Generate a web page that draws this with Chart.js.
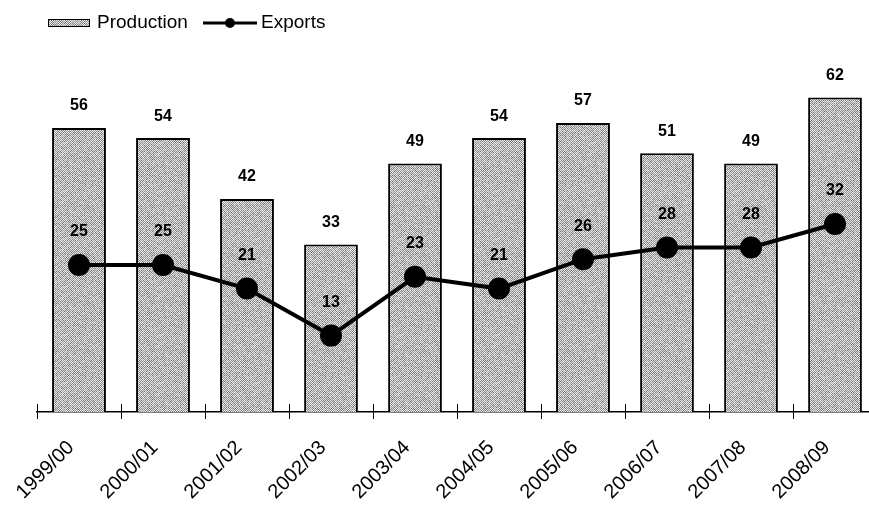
<!DOCTYPE html>
<html>
<head>
<meta charset="utf-8">
<script src="https://cdn.jsdelivr.net/npm/chart.js@4.4.1/dist/chart.umd.min.js"></script>
<style>
  html, body { margin: 0; padding: 0; background: #fff; overflow: hidden; width: 869px; height: 508px; }
  #wrap { width: 890px; height: 508px; }
</style>
</head>
<body>
<div id="wrap"><canvas id="chart" width="890" height="508"></canvas></div>
<script>
// Marketing years and the two series (same units)
const seasons = ['1999/00', '2000/01', '2001/02', '2002/03', '2003/04',
                 '2004/05', '2005/06', '2006/07', '2007/08', '2008/09'];
const production = [56, 54, 42, 33, 49, 54, 57, 51, 49, 62];
const exportVolumes = [25, 25, 21, 13, 23, 21, 26, 28, 28, 32];
const seriesNames = ['Production', 'Exports'];

const FONT = '"Liberation Sans", Arial, Helvetica, sans-serif';

// Dithered grey fill used for the production bars and their legend swatch
function ditherPattern(ctx) {
  const size = 48;
  const tile = document.createElement('canvas');
  tile.width = tile.height = size;
  const g = tile.getContext('2d');
  const img = g.createImageData(size, size);
  for (let y = 0; y < size; y++) {
    for (let x = 0; x < size; x++) {
      const i = (y * size + x) * 4;
      let v;
      if ((x + y) % 2 === 0) {
        v = 230;
      } else {
        const h = Math.sin(x * 12.9898 + y * 78.233) * 43758.5453;
        v = 100 + (h - Math.floor(h)) * 75;
      }
      img.data[i] = img.data[i + 1] = img.data[i + 2] = v;
      img.data[i + 3] = 255;
    }
  }
  g.putImageData(img, 0, 0);
  return ctx.createPattern(tile, 'repeat');
}

const canvas = document.getElementById('chart');
const ctx0 = canvas.getContext('2d');
const barFill = ditherPattern(ctx0);

// Value labels above bars and line points
const valueLabels = {
  id: 'valueLabels',
  afterDatasetsDraw(chart) {
    const ctx = chart.ctx;
    ctx.save();
    ctx.fillStyle = '#000';
    ctx.font = 'bold 16px ' + FONT;
    ctx.textAlign = 'center';
    ctx.textBaseline = 'middle';
    chart.data.datasets.forEach((ds, di) => {
      const meta = chart.getDatasetMeta(di);
      const offset = ds.type === 'line' ? 33 : 22;
      meta.data.forEach((el, i) => {
        ctx.fillText(String(ds.data[i]), el.x, el.y - offset);
      });
    });
    ctx.restore();
  }
};

// Small tick marks crossing the category axis at each category boundary
const boundaryTicks = {
  id: 'boundaryTicks',
  afterDraw(chart) {
    const xs = chart.scales.x;
    const ctx = chart.ctx;
    const base = xs.top;
    ctx.save();
    ctx.strokeStyle = '#000';
    ctx.lineWidth = 1;
    for (let i = 0; i <= seasons.length; i++) {
      const px = Math.round(xs.getPixelForValue(i - 0.5)) + 0.5;
      ctx.beginPath();
      ctx.moveTo(px, base - 8);
      ctx.lineTo(px, base + 7);
      ctx.stroke();
    }
    ctx.restore();
  }
};

// Legend: textured swatch for bars, line with dot for the line series
const topLegend = {
  id: 'topLegend',
  afterDraw(chart) {
    const ctx = chart.ctx;
    const barName = chart.data.datasets.find(d => d.type === 'bar').label;
    const lineName = chart.data.datasets.find(d => d.type === 'line').label;
    const cy = 23;
    ctx.save();
    ctx.fillStyle = barFill;
    ctx.fillRect(48, cy - 4, 42, 8);
    ctx.strokeStyle = '#000';
    ctx.lineWidth = 1;
    ctx.strokeRect(48.5, cy - 3.5, 41, 7);

    ctx.fillStyle = '#000';
    ctx.font = '19px ' + FONT;
    ctx.textAlign = 'left';
    ctx.textBaseline = 'middle';
    ctx.fillText(barName, 97, cy);

    ctx.lineWidth = 3;
    ctx.beginPath();
    ctx.moveTo(203, cy);
    ctx.lineTo(257, cy);
    ctx.stroke();
    ctx.beginPath();
    ctx.arc(230, cy, 5, 0, Math.PI * 2);
    ctx.fill();

    ctx.fillText(lineName, 261, cy);
    ctx.restore();
  }
};

new Chart(canvas, {
  data: {
    labels: seasons,
    datasets: [
      {
        type: 'line',
        label: seriesNames[1],
        data: exportVolumes,
        yAxisID: 'y2',
        order: 0,
        borderColor: '#000',
        backgroundColor: '#000',
        borderWidth: 4,
        pointRadius: 9,
        pointHoverRadius: 9,
        pointBackgroundColor: '#000',
        pointBorderColor: '#000',
        tension: 0
      },
      {
        type: 'bar',
        label: seriesNames[0],
        data: production,
        yAxisID: 'y',
        order: 1,
        backgroundColor: barFill,
        borderColor: '#000',
        borderWidth: 2,
        borderSkipped: 'bottom',
        categoryPercentage: 1,
        barPercentage: 0.64
      }
    ]
  },
  options: {
    responsive: false,
    devicePixelRatio: 1,
    animation: false,
    layout: { padding: { left: 37, right: 13, top: 60, bottom: 0 } },
    plugins: {
      legend: { display: false },
      tooltip: { enabled: false }
    },
    scales: {
      x: {
        offset: true,
        grid: { display: false, drawTicks: false },
        border: { display: true, color: '#000', width: 1.5 },
        ticks: {
          color: '#000',
          font: { family: FONT, size: 20 },
          minRotation: 45,
          maxRotation: 45,
          autoSkip: false,
          padding: 24,
          labelOffset: -8
        },
        afterFit(scale) { scale.height = 96; }
      },
      y: { display: false, min: 0, max: 69.4 },
      y2: { display: false, min: 0, max: 59.9 }
    }
  },
  plugins: [valueLabels, boundaryTicks, topLegend]
});
</script>
</body>
</html>
